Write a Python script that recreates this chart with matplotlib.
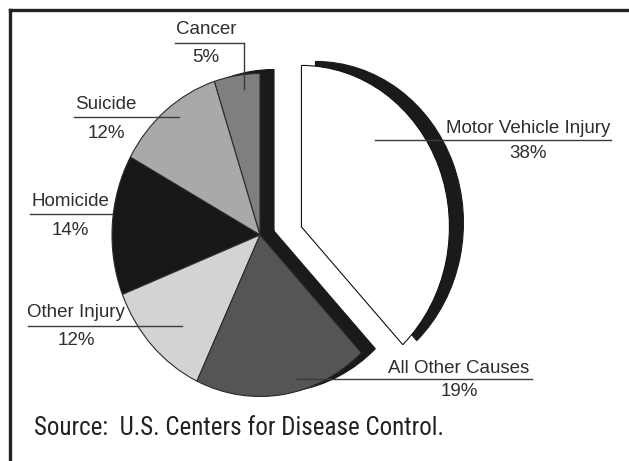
import matplotlib
matplotlib.use("Agg")
import matplotlib.pyplot as plt
from matplotlib.lines import Line2D

# leading causes of death, slices counter-clockwise from 12 o'clock
causes = ["Cancer", "Suicide", "Homicide", "Other Injury",
          "All Other Causes", "Motor Vehicle Injury"]
shares = [5, 12, 14, 12, 19, 38]
shade = ["#7f7f7f", "#a9a9a9", "#171717", "#d3d3d3", "#555555", "#ffffff"]

W, H = 629, 461
fig = plt.figure(figsize=(W / 100, H / 100), dpi=100)
fig.patch.set_facecolor("white")

# pie axes: 1 radius = 148 px across, 161.5 px tall, hub at (260, 235)
rx, ry = 148.0, 161.5
cx, cy = 260.0, 235.0
ax = fig.add_axes([0, 0, 1, 1])

mvi_shift = (0.28, 0.05)       # pulled-out slice
depth = (14 / rx, 4 / ry)      # fake 3d thickness, to the right

# black "side" of the pie first
back, _ = ax.pie(shares, startangle=90, counterclock=True, center=depth,
                 colors=["#1a1a1a"] * len(shares),
                 wedgeprops=dict(edgecolor="#1a1a1a", linewidth=0.8))
front, _ = ax.pie(shares, startangle=90, counterclock=True,
                  colors=shade,
                  wedgeprops=dict(edgecolor="#2b2b2b", linewidth=0.8))
for w in back:
    w.set_zorder(1)
for w in front:
    w.set_zorder(2)
back[-1].set_center((depth[0] + mvi_shift[0], depth[1] + mvi_shift[1]))
front[-1].set_center(mvi_shift)
front[-1].set_edgecolor("#111111")

ax.set_aspect("auto")
ax.set_xlim(-cx / rx, (W - cx) / rx)
ax.set_ylim(-(H - cy) / ry, cy / ry)
ax.axis("off")

# overlay in pixel units for labels, leaders and frame
ov = fig.add_axes([0, 0, 1, 1], zorder=5)
ov.set_xlim(0, W)
ov.set_ylim(H, 0)
ov.axis("off")
ov.patch.set_alpha(0)

txt = "#2e2e2e"
lc = "#3a3a3a"
fs = 13.5

# (name x, name y, pct y, leader segments)
label_pos = {
    "Cancer": (206, 29, 57, [((175, 43), (244, 43)), ((244, 43), (244, 89))]),
    "Suicide": (106, 104, 133, [((74, 117), (179, 117))]),
    "Homicide": (70, 201, 230, [((30, 214), (112, 214))]),
    "Other Injury": (76, 312, 340, [((28, 326), (182, 326))]),
    "All Other Causes": (459, 368, 391, [((297, 379), (532, 379))]),
    "Motor Vehicle Injury": (528, 128, 153, [((375, 140), (611, 140))]),
}
for name, pct in zip(causes, shares):
    x, y_name, y_pct, segs = label_pos[name]
    ov.text(x, y_name, name, ha="center", va="center", fontsize=fs,
            color=txt, family=["Liberation Sans"])
    ov.text(x, y_pct, f"{pct}%", ha="center", va="center", fontsize=fs,
            color=txt, family=["Liberation Sans"])
    for (x0, y0), (x1, y1) in segs:
        ov.add_line(Line2D([x0, x1], [y0, y1], color=lc, linewidth=1.0))

ov.text(34, 428, "Source:  U.S. Centers for Disease Control.", ha="left",
        va="center", fontsize=18, color="#222222", fontstretch="condensed",
        family=["Roboto Condensed", "DejaVu Sans"])

# frame: only top and left edges fall inside the image
ov.add_line(Line2D([10, W + 5], [10, 10], color="#222222", linewidth=2.4))
ov.add_line(Line2D([10, 10], [10, H + 5], color="#222222", linewidth=2.4))

fig.savefig("out.png", dpi=100, facecolor="white")
